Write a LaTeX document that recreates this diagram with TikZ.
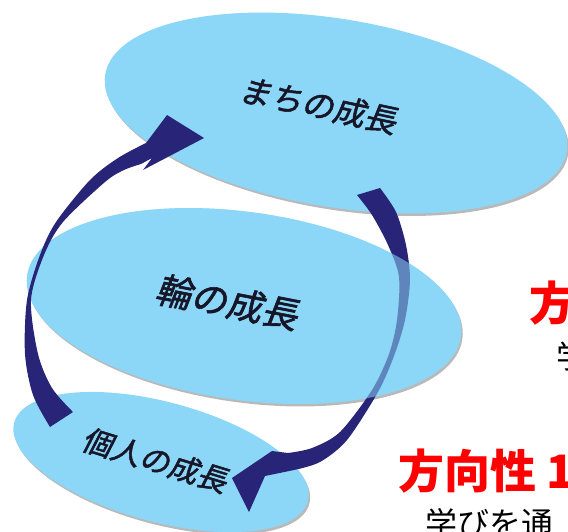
\documentclass[tikz,border=0pt]{standalone}
\usepackage{fontspec}
\newfontfamily\jp{Noto Sans CJK JP}
\newfontfamily\jpslant{Noto Sans CJK JP}[FakeSlant=0.18, FakeBold=1.6]
\usetikzlibrary{shapes.geometric,shadows}
\definecolor{ringblue}{RGB}{140,215,247}
\definecolor{arrownavy}{RGB}{40,36,120}
\definecolor{tagred}{RGB}{255,0,0}
\definecolor{inkdark}{RGB}{22,22,40}
\tikzstyle{stage}=[ellipse, fill=ringblue, inner sep=0pt, drop shadow={shadow xshift=1.5pt, shadow yshift=-2.5pt, fill=black!50, opacity=0.55}]
\tikzstyle{caption}=[text=inkdark, inner sep=0pt]
\tikzstyle{heading}=[font={\jp\bfseries\fontsize{46}{46}\selectfont}, text=tagred, inner sep=0pt, anchor=west]
\tikzstyle{note}=[font={\jp\fontsize{32}{32}\selectfont}, text=black, inner sep=0pt, anchor=west]

\begin{document}
\begin{tikzpicture}[x=1pt, y=-1pt]
% Frame
    \useasboundingbox (0,0) rectangle (568,531);
    \clip (0,0) rectangle (568,531);
% Ellipses
    \node[stage, minimum width=468pt, minimum height=188pt, rotate=-9.5] (town) at (336,113) {};
    \node[stage, minimum width=304pt, minimum height=120pt, rotate=-15] (self) at (161,462) {};
    \node[stage, minimum width=438pt, minimum height=188pt, rotate=-8] (ring) at (244,306) {};
% Arrow from town down to self (behind the ring)
    \fill[arrownavy] plot[smooth] coordinates {(357,195) (372,215) (388,245) (399,277) (397,320) (389,354) (372,390) (340,432) (312,448) (288,453)}
        -- (272,451) -- (232,478) -- (249,512) -- (265,476) --
        plot[smooth] coordinates {(294,470) (320,462) (347,440) (378,392) (394,356) (405,320) (410,280) (406,245) (396,212) (380,188)} -- cycle;
% Glass of the ring over that arrow
    \fill[ringblue, fill opacity=0.55, rotate around={-8:(ring.center)}] (ring.center) ellipse [x radius=219, y radius=94];
% Arrow from self up to town
    \fill[arrownavy] plot[smooth] coordinates {(50,427) (33,395) (25,354) (27,300) (40,255) (56,222) (90,180) (118,158) (146,143)}
        -- (167,115) -- (204,138) -- (143,170) -- (152,158) --
        plot[smooth] coordinates {(141,164) (124,170) (105,182) (63,222) (44,255) (31,300) (38,354) (52,388) (73,412)} -- cycle;
% Captions
    \node[caption, font={\jpslant\fontsize{32}{32}\selectfont}, rotate=-12] (townlabel) at ([shift={(-18,-8)}]town.center) {まちの成長};
    \node[caption, font={\jpslant\fontsize{36}{36}\selectfont}, rotate=-11] (ringlabel) at ([shift={(-17,-4)}]ring.center) {輪の成長};
    \node[caption, font={\jpslant\fontsize{30}{30}\selectfont}, rotate=-17] (selflabel) at ([shift={(-6,-2)}]self.center) {個人の成長};
% Side texts (cut by the frame)
    \node[heading] (aimtwo) at (529,303) {方};
    \node[note] (aimtwotext) at (556,356) {学};
    \node[heading] (aimone) at (398,471) {方向性 1};
    \node[note] (aimonetext) at (425,523) {学びを通};
\end{tikzpicture}
\end{document}
